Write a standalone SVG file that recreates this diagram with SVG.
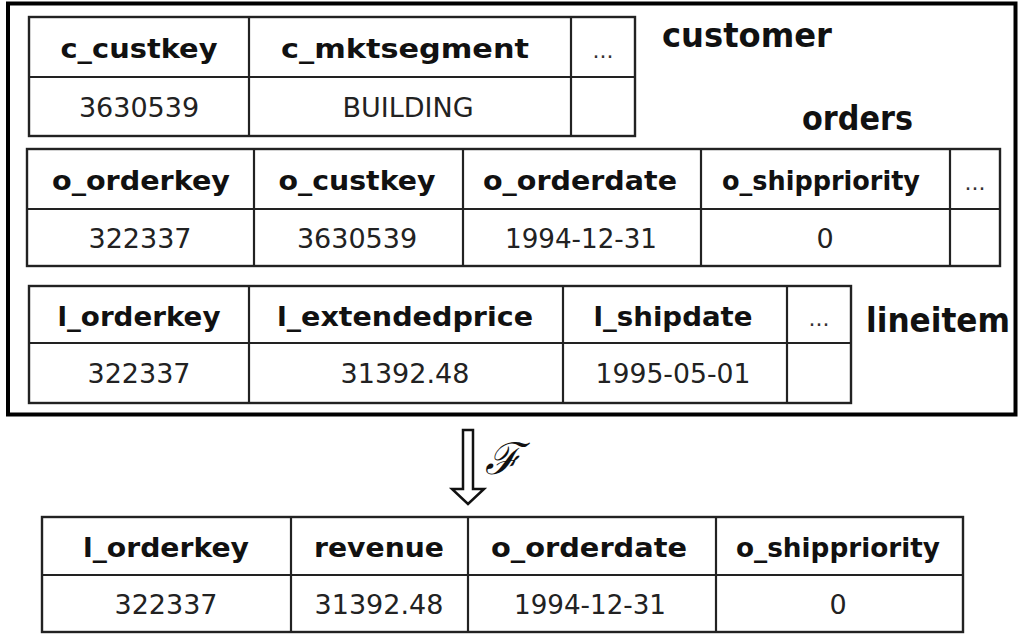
<svg xmlns="http://www.w3.org/2000/svg" width="1019" height="634" viewBox="0 0 1019 634">
<style>
.tb{fill:#fff;stroke:#222;stroke-width:2.4}
.ln{stroke:#222;stroke-width:2.2}
.h{font-family:"DejaVu Sans",sans-serif;font-weight:bold;font-size:27px;fill:#111;text-anchor:middle}
.d{font-family:"DejaVu Sans",sans-serif;font-size:27px;fill:#222;text-anchor:middle}
.dots{font-family:"DejaVu Sans",sans-serif;font-size:22px;fill:#333;text-anchor:middle}
.lbl{font-family:"DejaVu Sans",sans-serif;font-weight:bold;font-size:33px;fill:#111}
</style>
<rect id="frame" x="8" y="3.5" width="1007.5" height="411" fill="#fff" stroke="#000" stroke-width="4"/>
<g id="customer">
<rect class="tb" x="29" y="17" width="606" height="119"/>
<line class="ln" x1="29" y1="77" x2="635" y2="77"/>
<line class="ln" x1="249" y1="17" x2="249" y2="136"/>
<line class="ln" x1="571" y1="17" x2="571" y2="136"/>
<text class="h" x="139" y="58" textLength="157" lengthAdjust="spacingAndGlyphs">c_custkey</text>
<text class="h" x="405" y="58" textLength="248" lengthAdjust="spacingAndGlyphs">c_mktsegment</text>
<text class="dots" x="603" y="58">...</text>
<text class="d" x="139" y="116.5">3630539</text>
<text class="d" x="408" y="116.5">BUILDING</text>
<text class="lbl" x="662" y="47" textLength="170" lengthAdjust="spacingAndGlyphs">customer</text>
</g>
<g id="orders">
<rect class="tb" x="27" y="149" width="973" height="117"/>
<line class="ln" x1="27" y1="209" x2="1000" y2="209"/>
<line class="ln" x1="254" y1="149" x2="254" y2="266"/>
<line class="ln" x1="463" y1="149" x2="463" y2="266"/>
<line class="ln" x1="701" y1="149" x2="701" y2="266"/>
<line class="ln" x1="950" y1="149" x2="950" y2="266"/>
<text class="h" x="141" y="190" textLength="178" lengthAdjust="spacingAndGlyphs">o_orderkey</text>
<text class="h" x="357" y="190" textLength="157" lengthAdjust="spacingAndGlyphs">o_custkey</text>
<text class="h" x="580" y="190" textLength="194" lengthAdjust="spacingAndGlyphs">o_orderdate</text>
<text class="h" x="821" y="190" textLength="198" lengthAdjust="spacingAndGlyphs">o_shippriority</text>
<text class="dots" x="975" y="190">...</text>
<text class="d" x="140" y="247.5">322337</text>
<text class="d" x="357" y="247.5">3630539</text>
<text class="d" x="581" y="247.5" textLength="152" lengthAdjust="spacingAndGlyphs">1994-12-31</text>
<text class="d" x="825" y="247.5">0</text>
<text class="lbl" x="802" y="130" textLength="111" lengthAdjust="spacingAndGlyphs">orders</text>
</g>
<g id="lineitem">
<rect class="tb" x="29" y="286" width="822" height="117"/>
<line class="ln" x1="29" y1="343" x2="851" y2="343"/>
<line class="ln" x1="249" y1="286" x2="249" y2="403"/>
<line class="ln" x1="563" y1="286" x2="563" y2="403"/>
<line class="ln" x1="787" y1="286" x2="787" y2="403"/>
<text class="h" x="139" y="325.5" textLength="163" lengthAdjust="spacingAndGlyphs">l_orderkey</text>
<text class="h" x="405" y="325.5" textLength="256" lengthAdjust="spacingAndGlyphs">l_extendedprice</text>
<text class="h" x="673" y="325.5" textLength="159" lengthAdjust="spacingAndGlyphs">l_shipdate</text>
<text class="dots" x="819" y="325.5">...</text>
<text class="d" x="139" y="383">322337</text>
<text class="d" x="405" y="383">31392.48</text>
<text class="d" x="673" y="383" textLength="155" lengthAdjust="spacingAndGlyphs">1995-05-01</text>
<text class="lbl" x="866" y="332" textLength="144" lengthAdjust="spacingAndGlyphs">lineitem</text>
</g>
<g id="connectors">
<path d="M463,430 L473,430 L473,489 L484,489 L468,504 L452,489 L463,489 Z" fill="#fff" stroke="#111" stroke-width="2.5" stroke-linejoin="miter"/>
<text x="485" y="474" font-family="DejaVu Serif, serif" font-style="italic" font-size="44" fill="#111">ℱ</text>
</g>
<g id="result">
<rect class="tb" x="42" y="517" width="921" height="115"/>
<line class="ln" x1="42" y1="575" x2="963" y2="575"/>
<line class="ln" x1="291" y1="517" x2="291" y2="632"/>
<line class="ln" x1="468" y1="517" x2="468" y2="632"/>
<line class="ln" x1="716" y1="517" x2="716" y2="632"/>
<text class="h" x="166" y="557" textLength="166" lengthAdjust="spacingAndGlyphs">l_orderkey</text>
<text class="h" x="379" y="557" textLength="130" lengthAdjust="spacingAndGlyphs">revenue</text>
<text class="h" x="589" y="557" textLength="196" lengthAdjust="spacingAndGlyphs">o_orderdate</text>
<text class="h" x="838" y="557" textLength="204" lengthAdjust="spacingAndGlyphs">o_shippriority</text>
<text class="d" x="166" y="613.5">322337</text>
<text class="d" x="379" y="613.5">31392.48</text>
<text class="d" x="590" y="613.5" textLength="152" lengthAdjust="spacingAndGlyphs">1994-12-31</text>
<text class="d" x="838" y="613.5">0</text>
</g>
</svg>
